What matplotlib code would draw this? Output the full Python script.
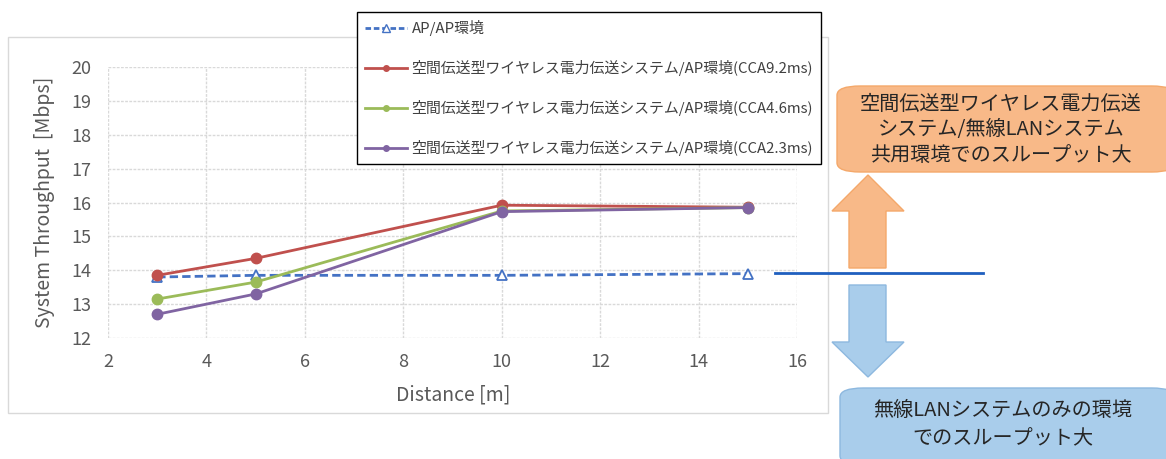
import matplotlib
matplotlib.use("Agg")
import matplotlib.pyplot as plt
from matplotlib.patches import Rectangle, FancyBboxPatch, Polygon
from matplotlib.lines import Line2D

plt.rcParams["font.family"] = ["Noto Sans CJK JP", "DejaVu Sans"]

W, H = 1166, 459

# data
distance = [3, 5, 10, 15]
ap_ap = [13.8, 13.85, 13.85, 13.9]
cca_9_2 = [13.85, 14.35, 15.92, 15.86]
cca_4_6 = [13.15, 13.65, 15.75, 15.85]
cca_2_3 = [12.7, 13.3, 15.73, 15.85]

labels = [
    "AP/AP環境",
    "空間伝送型ワイヤレス電力伝送システム/AP環境(CCA9.2ms)",
    "空間伝送型ワイヤレス電力伝送システム/AP環境(CCA4.6ms)",
    "空間伝送型ワイヤレス電力伝送システム/AP環境(CCA2.3ms)",
]
x_ticks = [2, 4, 6, 8, 10, 12, 14, 16]
y_ticks = [12, 13, 14, 15, 16, 17, 18, 19, 20]

upper_text = "空間伝送型ワイヤレス電力伝送\nシステム/無線LANシステム\n共用環境でのスループット大"
lower_text = "無線LANシステムのみの環境\nでのスループット大"

BLUE = "#4472C4"
RED = "#C0504D"
GREEN = "#9BBB59"
PURPLE = "#8064A2"
GRAY = "#595959"


def px(x, y):
    """pixel (from top-left) -> figure fraction"""
    return x / W, 1 - y / H


fig = plt.figure(figsize=(W / 100, H / 100), dpi=100)

# chart area frame
fig.patches.append(Rectangle(px(8, 413), 820 / W, 376 / H, transform=fig.transFigure,
                             facecolor="white", edgecolor="#d9d9d9", lw=1, zorder=-1))

x0, y0 = px(108, 338)
ax = fig.add_axes([x0, y0, (797 - 108) / W, (338 - 67) / H])
ax.set_facecolor("none")

ax.plot(distance, ap_ap, color=BLUE, ls=(0, (3, 1.5)), lw=2, marker="^", ms=7,
        mfc="white", mec=BLUE, mew=1.3, label=labels[0], zorder=3)
ax.plot(distance, cca_9_2, color=RED, lw=2, marker="o", ms=7.5, label=labels[1], zorder=4)
ax.plot(distance, cca_4_6, color=GREEN, lw=2, marker="o", ms=7.5, label=labels[2], zorder=4)
ax.plot(distance, cca_2_3, color=PURPLE, lw=2, marker="o", ms=7.5, label=labels[3], zorder=4)

ax.set_xlim(2, 16)
ax.set_ylim(12, 20)
ax.set_xticks(x_ticks)
ax.set_yticks(y_ticks)
ax.grid(True, color="#d9d9d9", lw=1, ls=(0, (2, 1)))
for s in ax.spines.values():
    s.set_visible(False)
ax.tick_params(length=0, labelsize=13, labelcolor=GRAY)
ax.tick_params(axis="y", pad=12)
ax.tick_params(axis="x", pad=11)

# axis titles placed where they sit in the picture
fig.text(*px(453, 395), "Distance [m]", ha="center", va="center", fontsize=14, color=GRAY)
fig.text(*px(45, 202), "System Throughput  [Mbps]", ha="center", va="center",
         rotation=90, fontsize=14, color=GRAY)

# legend box
handles = [
    Line2D([], [], color=BLUE, ls=(0, (2, 1)), lw=2, marker="^", ms=6, mfc="white", mec=BLUE),
    Line2D([], [], color=RED, lw=2, marker="o", ms=4),
    Line2D([], [], color=GREEN, lw=2, marker="o", ms=4),
    Line2D([], [], color=PURPLE, lw=2, marker="o", ms=4),
]
leg = fig.legend(handles, labels, loc="upper left", bbox_to_anchor=px(357, 12),
                 bbox_transform=fig.transFigure, fontsize=10.75, frameon=True,
                 fancybox=False, edgecolor="black", framealpha=1, labelspacing=1.6,
                 handlelength=2.8, handletextpad=0.3, borderpad=0.55, borderaxespad=0)
leg.get_frame().set_linewidth(1)
for t in leg.get_texts():
    t.set_color("#404040")

# upper message box and arrow
bx, by = px(837, 172)
fig.patches.append(FancyBboxPatch((bx, by), (1175 - 837) / W, (172 - 86) / H,
                                  boxstyle="round,pad=0,rounding_size=0.02",
                                  transform=fig.transFigure, facecolor="#F8B988",
                                  edgecolor="#F4A86A", lw=1, zorder=1))
fig.text(*px(1001, 130), upper_text, ha="center", va="center", fontsize=14.5,
         color="#262626", linespacing=1.3, zorder=2)

up_arrow = [(849, 268), (849, 211), (832, 211), (868, 175), (904, 211), (886, 211), (886, 268)]
fig.patches.append(Polygon([px(x, y) for x, y in up_arrow], closed=True, transform=fig.transFigure,
                           facecolor="#F8B988", edgecolor="#F4A86A", lw=1))

# divider line
fig.add_artist(Line2D([775 / W, 983 / W], [1 - 273 / H, 1 - 273 / H], color="#1F5FBF", lw=2))

down_arrow = [(849, 285), (886, 285), (886, 342), (904, 342), (868, 377), (832, 342), (849, 342)]
fig.patches.append(Polygon([px(x, y) for x, y in down_arrow], closed=True, transform=fig.transFigure,
                           facecolor="#A9CDEB", edgecolor="#8DB8DF", lw=1))

# lower message box
bx, by = px(840, 465)
fig.patches.append(FancyBboxPatch((bx, by), (1175 - 840) / W, (465 - 388) / H,
                                  boxstyle="round,pad=0,rounding_size=0.02",
                                  transform=fig.transFigure, facecolor="#A9CDEB",
                                  edgecolor="#8DB8DF", lw=1, zorder=1))
fig.text(*px(1003, 425), lower_text, ha="center", va="center", fontsize=14.5,
         color="#262626", linespacing=1.45, zorder=2)

fig.savefig("out.png", dpi=100)
